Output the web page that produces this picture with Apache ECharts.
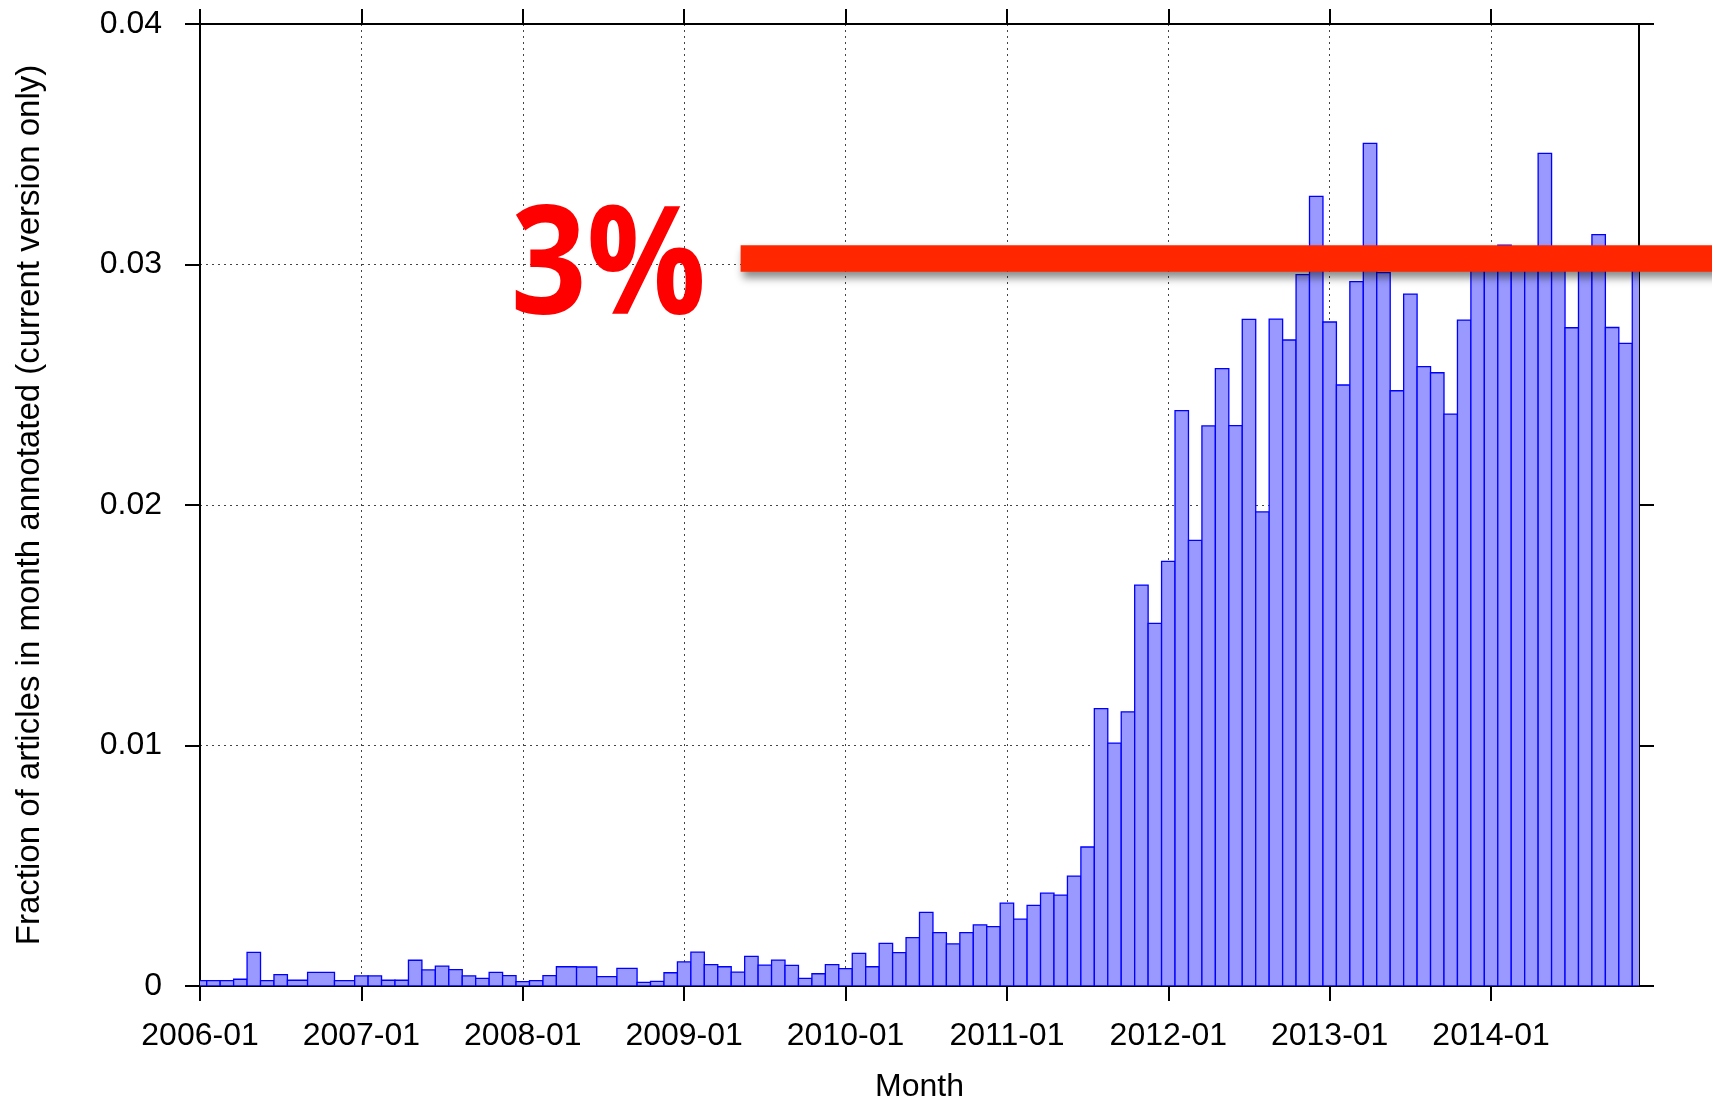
<!DOCTYPE html>
<html>
<head>
<meta charset="utf-8">
<script src="https://cdn.jsdelivr.net/npm/echarts@6/dist/echarts.min.js"></script>
<style>
  html, body { margin: 0; padding: 0; background: #ffffff; }
  #chart { width: 1712px; height: 1101px; }
</style>
</head>
<body>
<div id="chart"></div>
<script>
// ---- Data (fraction of articles annotated, one value per month; null = no data for that month) ----
const xTickLabels = ['2006-01', '2007-01', '2008-01', '2009-01', '2010-01', '2011-01', '2012-01', '2013-01', '2014-01'];
const yTickLabels = ['0', '0.01', '0.02', '0.03', '0.04'];
const values2006 = [0.00022, 0.00022, 0.00022, 0.00028, 0.00140, 0.00022, 0.00047, 0.00024, null, 0.00057, null, 0.00022];
const values2007 = [0.00042, 0.00042, 0.00024, 0.00024, 0.00107, 0.00067, 0.00083, 0.00068, 0.00042, 0.00032, 0.00057, 0.00043];
const values2008 = [0.00018, 0.00022, 0.00043, 0.00080, null, 0.00079, 0.00039, null, 0.00073, 0.00015, 0.00019, 0.00055];
const values2009 = [0.00100, 0.00141, 0.00089, 0.00080, 0.00058, 0.00123, 0.00087, 0.00108, 0.00086, 0.00032, 0.00051, 0.00089];
const values2010 = [0.00072, 0.00136, 0.00080, 0.00177, 0.00139, 0.00201, 0.00306, 0.00222, 0.00175, 0.00222, 0.00254, 0.00247];
const values2011 = [0.00345, 0.00278, 0.00335, 0.00386, 0.00378, 0.00457, 0.00578, 0.01153, 0.01010, 0.01140, 0.01667, 0.01508];
const values2012 = [0.01766, 0.02392, 0.01853, 0.02329, 0.02567, 0.02330, 0.02772, 0.01971, 0.02773, 0.02686, 0.02958, 0.03283];
const values2013 = [0.02761, 0.02499, 0.02929, 0.03504, 0.02966, 0.02475, 0.02877, 0.02575, 0.02550, 0.02378, 0.02769, 0.03000];
const values2014 = [0.03020, 0.03080, 0.03030, 0.03010, 0.03462, 0.02990, 0.02737, 0.03000, 0.03124, 0.02738, 0.02672, 0.03010];
const annotationText = '3%';
const annotationValue = 0.03025;

// ---- Build ----
const monthly = [].concat(values2006, values2007, values2008, values2009, values2010,
                          values2011, values2012, values2013, values2014);
const lastMonth = monthly.length - 1;          // 2014-12
const yearTicks = xTickLabels.map((_, k) => k * 12);

// boxes touch their neighbours (gnuplot "boxes" auto width): extend to midpoint of neighbouring data
const valid = [];
monthly.forEach((v, i) => { if (v !== null) valid.push(i); });
const boxData = valid.map((i, k) => {
  const p = k > 0 ? valid[k - 1] : null;
  const n = k < valid.length - 1 ? valid[k + 1] : null;
  const left = p !== null ? (p + i) / 2 : i - (n - i) / 2;
  const right = n !== null ? (i + n) / 2 : i + (i - p) / 2;
  return [i, monthly[i], left, right];
});

const FONT = '"Liberation Sans", Arial, Helvetica, sans-serif';
const chart = echarts.init(document.getElementById('chart'), null, { renderer: 'canvas' });

const axisLineStyle = { color: '#000', width: 2 };
const tickStyle = { color: '#000', width: 2 };
const gridLine = { show: true, lineStyle: { color: '#444', width: 1, type: [2, 4] } };

chart.setOption({
  animation: false,
  backgroundColor: '#ffffff',
  grid: { left: 200, right: 73, top: 24, bottom: 115, containLabel: false, outerBoundsMode: 'none' },
  xAxis: [
    {
      type: 'value', position: 'bottom', min: 0, max: lastMonth, interval: 12,
      axisLine: { show: true, onZero: false, lineStyle: axisLineStyle },
      axisTick: { show: true, inside: false, length: 15, lineStyle: tickStyle, customValues: yearTicks },
      axisLabel: {
        show: true, customValues: yearTicks, margin: 34,
        fontFamily: FONT, fontSize: 32, color: '#000',
        formatter: v => (v % 12 === 0 ? xTickLabels[v / 12] : '')
      },
      splitLine: gridLine,
      name: 'Month', nameLocation: 'middle', nameGap: 85,
      nameTextStyle: { fontFamily: FONT, fontSize: 32, color: '#000' }
    },
    {
      type: 'value', position: 'top', min: 0, max: lastMonth, interval: 12,
      axisLine: { show: true, onZero: false, lineStyle: axisLineStyle },
      axisTick: { show: true, inside: false, length: 15, lineStyle: tickStyle, customValues: yearTicks },
      axisLabel: { show: false },
      splitLine: { show: false }
    }
  ],
  yAxis: [
    {
      type: 'value', position: 'left', min: 0, max: 0.04, interval: 0.01,
      axisLine: { show: true, onZero: false, lineStyle: axisLineStyle },
      axisTick: { show: true, inside: false, length: 15, lineStyle: tickStyle },
      axisLabel: {
        show: true, margin: 38, fontFamily: FONT, fontSize: 32, color: '#000',
        formatter: v => yTickLabels[Math.round(v / 0.01)]
      },
      splitLine: gridLine,
      name: 'Fraction of articles in month annotated (current version only)',
      nameLocation: 'middle', nameGap: 154, nameRotate: 90,
      nameTextStyle: { fontFamily: FONT, fontSize: 33, color: '#000' }
    },
    {
      type: 'value', position: 'right', min: 0, max: 0.04, interval: 0.01,
      axisLine: { show: true, onZero: false, lineStyle: axisLineStyle },
      axisTick: { show: true, inside: false, length: 15, lineStyle: tickStyle },
      axisLabel: { show: false },
      splitLine: { show: false }
    }
  ],
  series: [
    {
      type: 'custom',
      xAxisIndex: 0, yAxisIndex: 0,
      clip: true,
      data: boxData,
      encode: { x: [0, 2, 3], y: 1 },
      renderItem: function (params, api) {
        const v = api.value(1);
        const tl = api.coord([api.value(2), v]);
        const br = api.coord([api.value(3), 0]);
        return {
          type: 'rect',
          shape: { x: tl[0], y: tl[1], width: br[0] - tl[0], height: br[1] - tl[1] },
          style: { fill: '#9999ff', stroke: '#0000ff', lineWidth: 1.3 }
        };
      }
    }
  ]
});

// ---- Annotation: "3%" and a thick red line at the 3% level ----
const yc = chart.convertToPixel({ yAxisIndex: 0 }, annotationValue);
const xLineStart = chart.convertToPixel({ xAxisIndex: 0 }, 40.2);
const xText = chart.convertToPixel({ xAxisIndex: 0 }, 23.1);
chart.setOption({
  graphic: [
    {
      type: 'rect', z: 100,
      shape: { x: xLineStart, y: yc - 13.3, width: 1712 - xLineStart + 10, height: 26.6 },
      style: {
        fill: '#ff2600',
        shadowBlur: 8, shadowOffsetX: 2, shadowOffsetY: 6, shadowColor: 'rgba(0,0,0,0.45)'
      }
    },
    {
      type: 'text', z: 100,
      x: xText, y: yc + 13,
      scaleX: 0.885,
      style: {
        text: annotationText,
        fill: '#ff0000',
        fontFamily: '"Open Sans", Lato, sans-serif',
        fontWeight: 'bold',
        fontSize: 150,
        align: 'left',
        verticalAlign: 'middle'
      }
    }
  ]
});
</script>
</body>
</html>
